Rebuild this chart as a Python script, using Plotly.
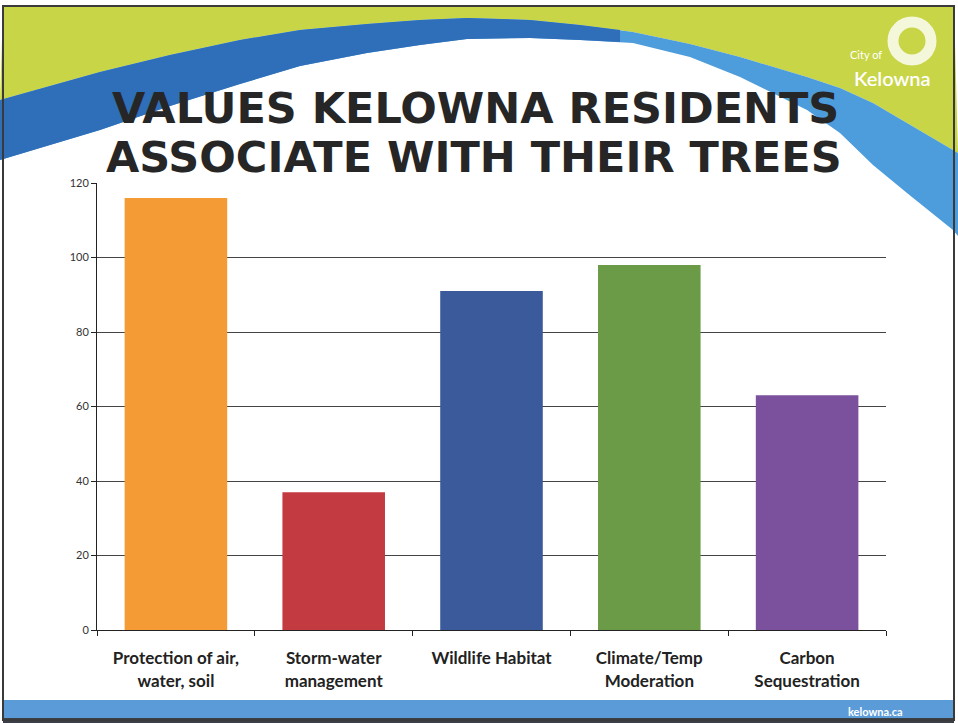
import plotly.graph_objects as go

categories = ["Protection of air,<br>water, soil", "Storm-water<br>management", "Wildlife Habitat",
              "Climate/Temp<br>Moderation", "Carbon<br>Sequestration"]
values = [116, 37, 91, 98, 63]
colors = ["#F59B36", "#C33B40", "#3A5A9B", "#6C9B47", "#7B509C"]
y_ticks = [0, 20, 40, 60, 80, 100, 120]
title_lines = ["VALUES KELOWNA RESIDENTS", "ASSOCIATE WITH THEIR TREES"]

W, H = 958, 723
L, R, T, B = 97, 72, 183, 93
PW, PH = W - L - R, H - T - B


def px(x):
    return (x - L) / PW


def py(y):
    return (H - B - y) / PH


def path(points):
    return "M " + " L ".join(f"{px(x):.4f},{py(y):.4f}" for x, y in points) + " Z"


upper = [(0, 100), (50, 86), (100, 72), (170, 55), (240, 40), (300, 30), (367, 24), (420, 20),
         (467, 18), (530, 20), (580, 25), (633, 32), (690, 44), (740, 57), (807, 77), (840, 88),
         (873, 103), (907, 123), (953, 150), (958, 153)]
lower = [(0, 160), (50, 145), (100, 130), (170, 106), (240, 84), (300, 66), (367, 53), (420, 45),
         (467, 39), (530, 38), (580, 40), (633, 43), (690, 57), (740, 77), (807, 110), (840, 133),
         (873, 165), (907, 193), (953, 230), (958, 236)]

shapes = []
shapes.append(dict(type="path", xref="paper", yref="paper", layer="below",
                   path=path([(3, 7), (954, 7)] + upper[::-1]),
                   fillcolor="#C8D546", line=dict(width=0)))
shapes.append(dict(type="path", xref="paper", yref="paper", layer="below",
                   path=path(upper + lower[::-1]),
                   fillcolor="#4D9CDB", line=dict(width=0)))
up_l = [p for p in upper if p[0] <= 620]
lo_l = [p for p in lower if p[0] <= 620]
shapes.append(dict(type="path", xref="paper", yref="paper", layer="below",
                   path=path(up_l + [(620, 30), (620, 42)] + lo_l[::-1]),
                   fillcolor="#2F6EB8", line=dict(width=0)))
shapes.append(dict(type="rect", xref="paper", yref="paper", layer="below",
                   x0=px(3), x1=px(954), y0=py(700), y1=py(719),
                   fillcolor="#5A9BD8", line=dict(width=0)))
shapes.append(dict(type="rect", xref="paper", yref="paper", layer="below",
                   x0=px(3), x1=px(954), y0=py(718), y1=py(723),
                   fillcolor="#3A3F48", line=dict(width=0)))
shapes.append(dict(type="rect", xref="paper", yref="paper", layer="below",
                   x0=px(3), x1=px(954), y0=py(720), y1=py(6),
                   fillcolor="rgba(0,0,0,0)", line=dict(color="#3a3a3a", width=2)))
shapes.append(dict(type="circle", xref="paper", yref="paper", layer="above",
                   x0=px(893), x1=px(931), y0=py(60), y1=py(22),
                   fillcolor="rgba(0,0,0,0)", line=dict(color="rgba(255,255,255,0.8)", width=11)))

annotations = [
    dict(text=title_lines[0], x=px(475), y=py(108), xref="paper", yref="paper", showarrow=False,
         xanchor="center", yanchor="middle",
         font=dict(family="DejaVu Sans", size=43, color="#262626", weight=700)),
    dict(text=title_lines[1], x=px(474), y=py(157), xref="paper", yref="paper", showarrow=False,
         xanchor="center", yanchor="middle",
         font=dict(family="DejaVu Sans", size=43, color="#262626", weight=700)),
    dict(text="City of", x=px(884), y=py(55), xref="paper", yref="paper", showarrow=False,
         xanchor="right", yanchor="middle", font=dict(family="Lato", size=11, color="white")),
    dict(text="Kelowna", x=px(893), y=py(78), xref="paper", yref="paper", showarrow=False,
         xanchor="center", yanchor="middle", font=dict(family="Lato", size=20, color="white", weight=600)),
    dict(text="kelowna.ca", x=px(875), y=py(711), xref="paper", yref="paper", showarrow=False,
         xanchor="center", yanchor="middle", font=dict(family="Lato", size=11, color="white", weight=700)),
]

fig = go.Figure(go.Bar(x=categories, y=values, marker=dict(color=colors, line=dict(width=0)),
                       hoverinfo="x+y"))

fig.update_layout(
    width=W, height=H,
    margin=dict(l=L, r=R, t=T, b=B, pad=0),
    paper_bgcolor="white", plot_bgcolor="rgba(0,0,0,0)",
    showlegend=False, bargap=0.35,
    shapes=shapes, annotations=annotations,
    font=dict(family="Lato", color="#222"),
)
fig.update_xaxes(showline=True, linecolor="#222", linewidth=1, ticks="outside", ticklen=5,
                 tickcolor="#222", tickson="boundaries", showgrid=False,
                 tickfont=dict(family="Lato", size=17, color="#222", weight=700),
                 ticklabelstandoff=13)
fig.update_yaxes(range=[0, 120], tickvals=y_ticks, showline=True, linecolor="#222", linewidth=1,
                 ticks="outside", ticklen=5, tickcolor="#222", showgrid=True, gridcolor="#444",
                 gridwidth=1, zeroline=False, tickfont=dict(family="Lato", size=11, color="#333"))

fig.write_html("out.html")
